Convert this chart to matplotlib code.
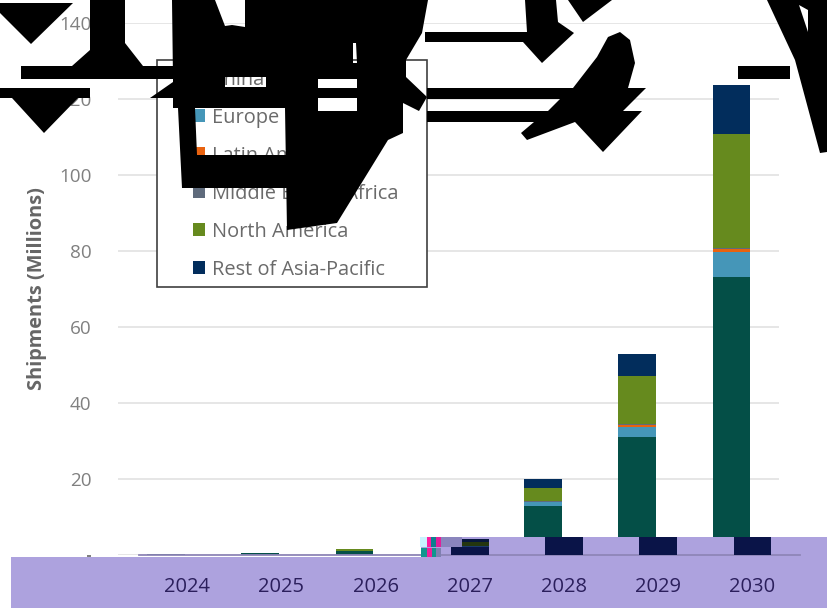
import matplotlib
matplotlib.use("Agg")
import matplotlib.pyplot as plt
import numpy as np
from matplotlib.patches import Polygon, PathPatch, Rectangle
from matplotlib.path import Path
from matplotlib.transforms import Affine2D, ScaledTranslation

plt.rcParams['font.family'] = ['Open Sans', 'DejaVu Sans']

years = [2024, 2025, 2026, 2027, 2028, 2029, 2030]
regions = ["China", "Europe", "Latin America", "Middle East & Africa", "North America", "Rest of Asia-Pacific"]
china = [0.1, 0.3, 0.9, 2.0, 12.8, 31.0, 73.0]
europe = [0.01, 0.02, 0.1, 0.2, 1.0, 2.6, 6.6]
latam = [0.0, 0.0, 0.01, 0.02, 0.1, 0.5, 0.8]
mea = [0.0, 0.0, 0.01, 0.02, 0.1, 0.2, 0.2]
north_america = [0.05, 0.15, 0.3, 1.1, 3.6, 12.8, 30.0]
rest_apac = [0.02, 0.05, 0.08, 0.8, 2.2, 5.7, 13.0]
series = [china, europe, latam, mea, north_america, rest_apac]
colors = ["#044f47", "#4596b8", "#e8620f", "#5f6b7c", "#668a1e", "#022d5c"]
band_colors = ["#0a1448", "#1b3a6b", "#3a2a20", "#1a1f3a", "#24360f", "#06163c"]
y_ticks = [0, 20, 40, 60, 80, 100, 120, 140]
y_labels = ["", "20", "40", "60", "80", "100", "120", "140"]

W, H = 827, 608
fig = plt.figure(figsize=(W / 100, H / 100), dpi=100, facecolor="white")
ax = fig.add_axes([118 / W, (H - 554.5) / H, 661 / W, 532 / H])
px = Affine2D().scale(1, -1).translate(0, H)
shift = ScaledTranslation(21 / 100, 0, fig.dpi_scale_trans)

x = np.array(years, dtype=float)
width = 0.4
bottom = np.zeros(len(years))
for name, vals, col in zip(regions, series, colors):
    ax.bar(x, vals, width, bottom=bottom, color=col, label=name, zorder=3)
    bottom += np.array(vals)

ax.set_xlim(2024 - 48 / 94.25, 2030 + 47.5 / 94.25)
ax.set_ylim(0, 140)
ax.set_yticks(y_ticks, y_labels)
ax.set_xticks(years)
ax.grid(axis="y", color="#e6e6e6", lw=1.4)
ax.set_axisbelow(True)
for s in ax.spines.values():
    s.set_visible(False)
ax.tick_params(axis="y", length=0, pad=19, labelsize=13.6, labelcolor="#808080")
ax.tick_params(axis="x", length=0, pad=16, labelsize=14.5, labelcolor="#2b1f5c")
ax.set_ylabel("Shipments (Millions)", fontsize=14.4, fontweight="bold", color="#666666")
ax.yaxis.set_label_coords(-71 / 661, 0.5)
for lab in ax.get_xticklabels():
    lab.set_transform(lab.get_transform() + shift)
ax.xaxis.set_zorder(8)

# lavender band across the foot of the picture
ax.add_patch(Polygon([(11, 557), (421, 557), (421, 537), (W, 537), (W, H), (11, H)],
                     closed=True, transform=px, facecolor="#ada2de", edgecolor="none",
                     clip_on=False, zorder=5))
ax.plot([2024 - 48 / 94.25, 2030 + 47.5 / 94.25], [0, 0], color="#8f86b8", lw=1.3,
        transform=ax.transData + shift, clip_on=False, zorder=5.5)
# displaced copy of the bar feet inside the band
clip_top = 4.6
base = np.zeros(len(years))
for vals, col in zip(series, band_colors):
    tops = np.minimum(base + np.array(vals), clip_top)
    ax.bar(x[3:], (tops - base)[3:], width, bottom=base[3:], color=col,
           transform=ax.transData + shift, clip_on=False, zorder=6)
    base = tops
for (x0, y0, w, h, c) in [(420, 537, 7, 10, "#c8f4ff"), (427, 537, 4, 10, "#ff1fa0"),
                          (431, 537, 5, 10, "#0f7f8f"), (436, 537, 5, 10, "#e0209a"),
                          (421, 548, 6, 9, "#10968f"), (427, 548, 5, 9, "#f0209a"),
                          (432, 548, 4, 9, "#10968f"), (436, 548, 5, 9, "#7f7fb0"),
                          (441, 537, 21, 10, "#8a85bd"), (87, 555, 4, 2, "#808080")]:
    ax.add_patch(Rectangle((x0, y0), w, h, transform=px, facecolor=c, edgecolor="none",
                           clip_on=False, zorder=7))

# legend frame and legend
ax.add_patch(Rectangle((157, 60), 270, 227, transform=px, facecolor="white", edgecolor="#404040",
                       lw=1.2, clip_on=False, zorder=4))
leg = ax.legend(loc="upper left", bbox_to_anchor=((193 - 118) / 661, (554.5 - 70) / 532),
                borderaxespad=0, borderpad=0, fontsize=14.4, frameon=False, labelcolor="#6a6a6a",
                handlelength=0.62, handleheight=0.62, handletextpad=0.33, labelspacing=0.9)
leg.set_zorder(4.5)

# black shapes lying over the top of the picture
black = dict(transform=px, facecolor="black", edgecolor="none", clip_on=False, zorder=9)
polys = [
    [(0, 3), (73, 3), (31, 44), (0, 13)],
    [(0, 88), (90, 88), (90, 98), (78, 98), (44, 133), (12, 98), (0, 98)],
    [(90, 0), (125, 0), (125, 43), (143, 66), (175, 66), (175, 79), (21, 79), (21, 66), (72, 66), (90, 50)],
    [(150, 98), (173, 82), (173, 98)],
    [(425, 32), (527, 32), (527, 42), (425, 42)],
    [(525, 0), (556, 0), (558, 22), (574, 33), (542, 63), (523, 42), (527, 32)],
    [(568, 0), (612, 0), (583, 22)],
    [(427, 88), (573, 88), (597, 57), (608, 37), (620, 32), (630, 40), (635, 63), (628, 88), (646, 88),
     (623, 111), (642, 111), (603, 152), (575, 122), (527, 140), (521, 133), (534, 122),
     (427, 122), (427, 111), (548, 111), (560, 99), (427, 99)],
    [(738, 66), (790, 66), (790, 79), (738, 79)],
]
for p in polys:
    ax.add_patch(Polygon(p, closed=True, **black))


def ring_path(rings):
    verts, codes = [], []
    for ring in rings:
        verts += ring + [ring[0]]
        codes += [Path.MOVETO] + [Path.LINETO] * (len(ring) - 1) + [Path.CLOSEPOLY]
    return Path(verts, codes)


outer = [(172, 0), (215, 0), (225, 26), (232, 25), (245, 27), (245, 0), (428, 0), (422, 33), (406, 60),
         (406, 77), (427, 97), (419, 111), (403, 103), (403, 133), (388, 140), (337, 223), (287, 230),
         (285, 108), (195, 108), (197, 155), (340, 155), (340, 188), (182, 188), (178, 108), (173, 108),
         (173, 79)]
holes = [[(225, 77), (225, 87), (266, 87), (266, 77)],
         [(318, 79), (318, 88), (357, 88), (357, 79)],
         [(318, 98), (318, 111), (357, 111), (357, 98)],
         [(353, 43), (353, 63), (357, 63), (356, 43)]]
ax.add_patch(PathPatch(ring_path([outer] + holes), **black))
right = [(767, 0), (W, 0), (W, 152), (820, 153), (795, 60)]
sliver = [(799, 5), (808, 32), (808, 10)]
ax.add_patch(PathPatch(ring_path([right, sliver]), **black))

fig.savefig("out.png", dpi=100)
